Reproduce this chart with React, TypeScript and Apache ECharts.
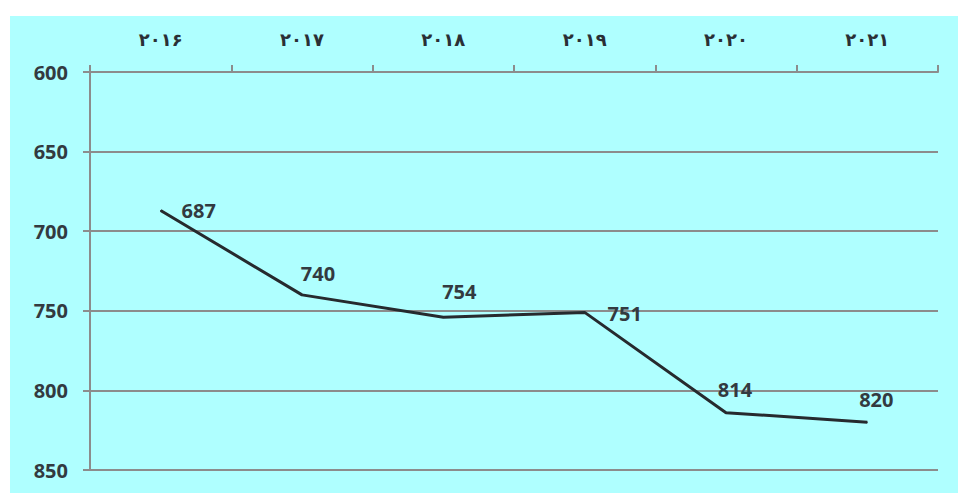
import React, { useEffect, useRef } from "react";
import * as echarts from "echarts";

const years = ["۲۰۱۶", "۲۰۱۷", "۲۰۱۸", "۲۰۱۹", "۲۰۲۰", "۲۰۲۱"];
const values = [687, 740, 754, 751, 814, 820];
const yTicks = [600, 650, 700, 750, 800, 850];

// label centre offsets relative to each point (styling only)
const labelOffsets: [number, number][] = [
  [38, 0],
  [16, -21],
  [16, -26],
  [40, 1],
  [9, -23],
  [9, -23],
];

export default function App() {
  const ref = useRef<HTMLDivElement>(null);
  useEffect(() => {
    document.body.style.margin = "0";
    const chart = echarts.init(ref.current!, undefined, { renderer: "svg" });
    chart.setOption({
      animation: false,
      backgroundColor: "#ffffff",
      graphic: [
        {
          type: "rect",
          z: -10,
          silent: true,
          shape: { x: 10, y: 16, width: 948, height: 477 },
          style: { fill: "#afffff" },
        },
      ],
      grid: { left: 90, right: 20, top: 72, bottom: 23, containLabel: false },
      xAxis: {
        type: "category",
        position: "top",
        data: years,
        boundaryGap: true,
        axisLine: { show: true, lineStyle: { color: "#8c8c8c", width: 2 } },
        axisTick: { show: true, length: 7, inside: false, lineStyle: { color: "#8c8c8c", width: 2 } },
        axisLabel: {
          margin: 24,
          color: "#2a2f35",
          fontFamily: "DejaVu Sans",
          fontWeight: "bold",
          fontSize: 18,
        },
        splitLine: { show: false },
      },
      yAxis: {
        type: "value",
        inverse: true,
        min: yTicks[0],
        max: yTicks[yTicks.length - 1],
        interval: 50,
        axisLine: { show: true, lineStyle: { color: "#8c8c8c", width: 2 } },
        axisTick: { show: true, length: 7, lineStyle: { color: "#8c8c8c", width: 2 } },
        axisLabel: {
          margin: 22,
          color: "#333a40",
          fontFamily: "Open Sans",
          fontWeight: "bold",
          fontSize: 20,
        },
        splitLine: { show: true, lineStyle: { color: "#8c8c8c", width: 2 } },
      },
      series: [
        {
          type: "line",
          data: values.map((v, i) => ({
            value: v,
            label: {
              show: true,
              position: "inside",
              offset: labelOffsets[i],
            },
          })),
          symbol: "circle",
          symbolSize: 1,
          showSymbol: true,
          lineStyle: { color: "#262a2e", width: 3 },
          itemStyle: { color: "#262a2e" },
          label: {
            show: true,
            color: "#333a40",
            fontFamily: "Open Sans",
            fontWeight: "bold",
            fontSize: 20,
          },
        },
      ],
    });
    return () => chart.dispose();
  }, []);
  return <div ref={ref} style={{ width: 958, height: 493, position: "absolute", left: 0, top: 0 }} />;
}
